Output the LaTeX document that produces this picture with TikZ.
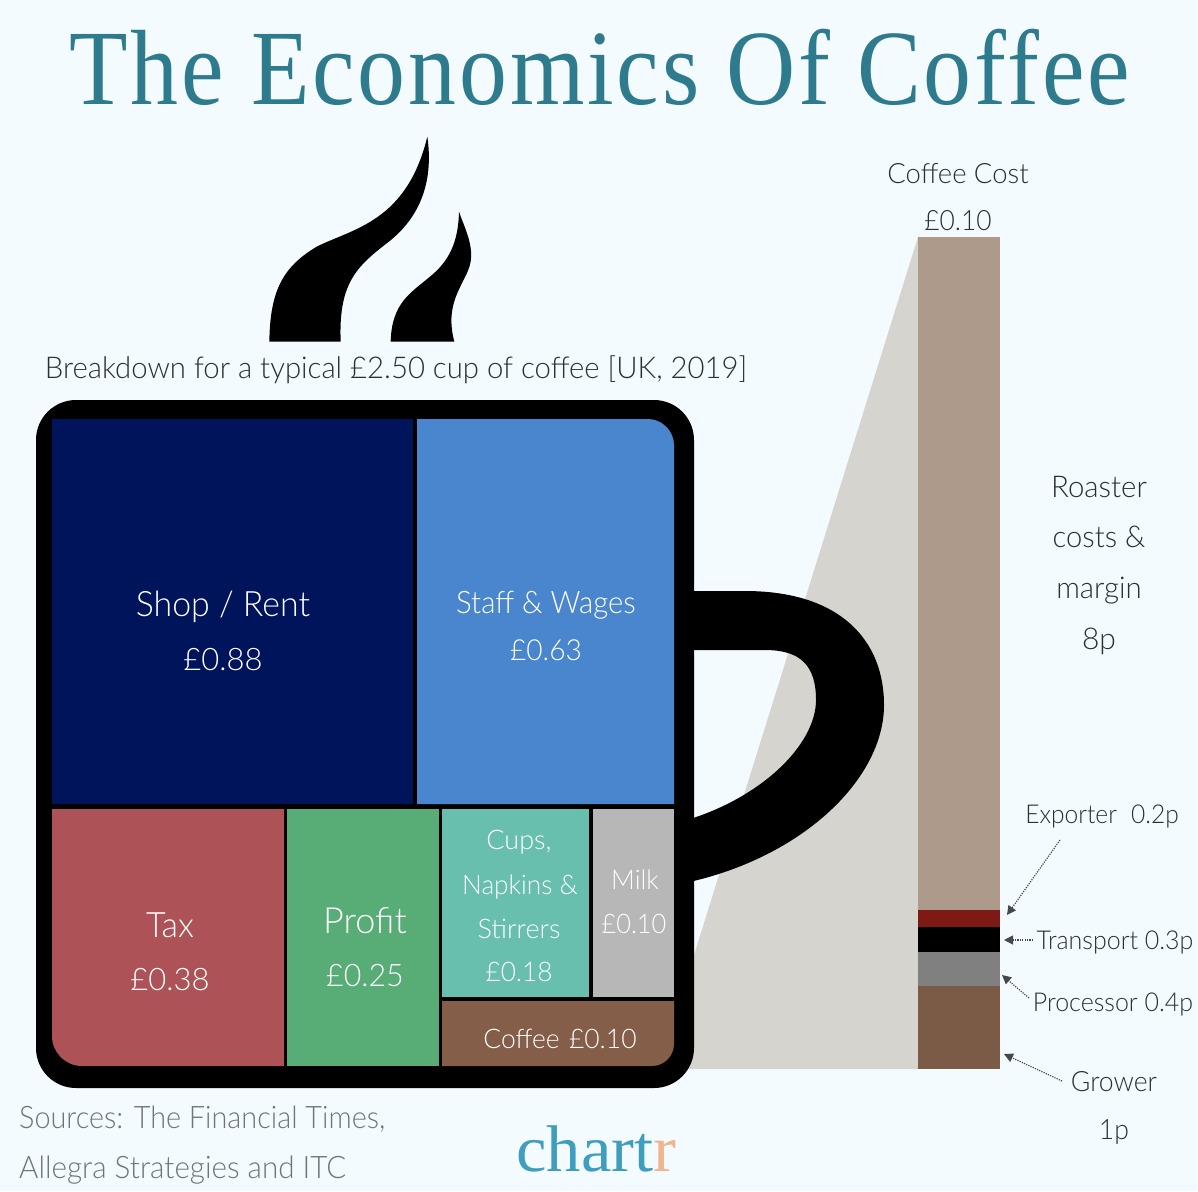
\documentclass[tikz,border=0pt]{standalone}
\usepackage{fontspec}
\setmainfont{Lato Light}
\newfontfamily\slabfont{Liberation Serif}
\usetikzlibrary{arrows.meta}
\definecolor{bgc}{HTML}{F4FBFF}
\definecolor{titlec}{HTML}{2F7B8E}
\definecolor{ink}{HTML}{2A2F33}
\definecolor{srcgray}{HTML}{6F7477}
\definecolor{conegray}{HTML}{D6D4CF}
\definecolor{rentc}{HTML}{00145C}
\definecolor{staffc}{HTML}{4A86CD}
\definecolor{taxc}{HTML}{AD5257}
\definecolor{profitc}{HTML}{58AC76}
\definecolor{cupsc}{HTML}{68BFAE}
\definecolor{milkc}{HTML}{B7B7B7}
\definecolor{coffeec}{HTML}{855E4A}
\definecolor{roastc}{HTML}{AD9A8B}
\definecolor{exportc}{HTML}{7D1A14}
\definecolor{procc}{HTML}{808080}
\definecolor{growc}{HTML}{7B5A46}
\definecolor{arrowc}{HTML}{45494D}
\definecolor{logoa}{HTML}{3F9DBD}
\definecolor{logob}{HTML}{F0B48E}
\newcommand{\fsz}[1]{\fontsize{#1}{#1}\selectfont}
\newcommand{\hs}[2]{\scalebox{#1}[1]{#2}}
\tikzset{
  x=1pt,y=-1pt,
  lbl/.style={anchor=base,inner sep=0pt,text=ink},
  wht/.style={anchor=base,inner sep=0pt,text=white},
  src/.style={anchor=base west,inner sep=0pt,text=srcgray,font=\fsz{31}},
  dotarrow/.style={draw=arrowc,line width=1.2pt,dash pattern=on 1.2pt off 1.2pt,
    -{Triangle[width=9pt,length=9pt,fill=arrowc]}},
  barblock/.style={inner sep=0pt,outer sep=0pt,anchor=north west}
}
\begin{document}
\begin{tikzpicture}
\useasboundingbox (0,0) rectangle (1198,1191);
\fill[bgc] (0,0) rectangle (1198,1191);
% title
\node[anchor=base,inner sep=0pt,text=titlec,font=\slabfont\fsz{107}] (title) at (600,104) {\hs{.895}{\addfontfeature{LetterSpace=3}The Economics Of Coffee}};
% steam
\begin{scope}[shift={(240,130)},x=0.33333pt,y=-0.33333pt]
\fill[black] (88,635) .. controls (90,480) and (130,410) .. (230,350) .. controls (340,295) and (500,275) .. (562,20)
  .. controls (585,180) and (520,280) .. (440,340) .. controls (350,410) and (295,460) .. (302,635) -- cycle;
\fill[black] (452,635) .. controls (455,520) and (510,490) .. (570,440) .. controls (625,395) and (655,340) .. (657,245)
  .. controls (672,290) and (700,340) .. (692,395) .. controls (680,460) and (610,510) .. (643,635) -- cycle;
\end{scope}
\node[lbl,font=\fsz{30}] (subtitle) at (396,378) {\hs{.977}{Breakdown for a typical £2.50 cup of coffee [UK, 2019]}};
% cone
\fill[conegray] (918,237) -- (918,1069) -- (680,1069) -- (694,955) -- cycle;
% handle
\fill[black] (680,591) -- (745,591) .. controls (840,591) and (884,640) .. (884,705)
  .. controls (884,780) and (800,860) .. (680,884) -- (680,822)
  .. controls (760,800) and (816,745) .. (816,700) .. controls (816,665) and (800,650) .. (765,650) -- (680,650) -- cycle;
% mug
\fill[black,rounded corners=40pt] (36,400) rectangle (694,1088);
% treemap
\fill[rentc] (52,419) rectangle (413,804);
\fill[staffc] (417,419) -- (648,419) .. controls (662,419) and (674,431) .. (674,445) -- (674,804) -- (417,804) -- cycle;
\fill[taxc] (52,809) -- (284,809) -- (284,1066) -- (82,1066) .. controls (65.5,1066) and (52,1052.5) .. (52,1036) -- cycle;
\fill[profitc] (287,809) rectangle (439,1066);
\fill[cupsc] (442,809) rectangle (589,997);
\fill[milkc] (593,809) rectangle (674,997);
\fill[coffeec] (442,1001) -- (674,1001) -- (674,1044) .. controls (674,1056) and (664,1066) .. (652,1066) -- (442,1066) -- cycle;
% treemap labels
\node[wht,font=\fsz{35}] (rent) at (223,616) {\hs{.967}{Shop / Rent}};
\node[wht,font=\fsz{31}] (rentv) at (223,670) {£0.88};
\node[wht,font=\fsz{31}] (staff) at (546,613) {\hs{.947}{Staff \& Wages}};
\node[wht,font=\fsz{29}] (staffv) at (546,660) {\hs{.97}{£0.63}};
\node[wht,font=\fsz{35}] (tax) at (170,937) {\hs{.97}{Tax}};
\node[wht,font=\fsz{31}] (taxv) at (170,990) {£0.38};
\node[wht,font=\fsz{36}] (profit) at (365,933) {Profit};
\node[wht,font=\fsz{31}] (profitv) at (365,986) {\hs{.98}{£0.25}};
\node[wht,font=\fsz{27}] (cups1) at (519,849) {Cups,};
\node[wht,font=\fsz{27}] (cups2) at (520,894) {\hs{.97}{Napkins \&}};
\node[wht,font=\fsz{27}] (cups3) at (519,938) {Stirrers};
\node[wht,font=\fsz{27}] (cupsv) at (519,981) {\hs{.97}{£0.18}};
\node[wht,font=\fsz{27}] (milk) at (635,889) {\hs{.97}{Milk}};
\node[wht,font=\fsz{27}] (milkv) at (634,933) {\hs{.94}{£0.10}};
\node[wht,font=\fsz{27}] (coffee) at (560,1048) {\hs{.98}{Coffee\hspace{.35em}£0.10}};
% cost column
\node[barblock,fill=roastc,minimum width=82pt,minimum height=673pt] (roast) at (918,237) {};
\node[barblock,fill=exportc,minimum width=82pt,minimum height=17pt] (export) at (918,910) {};
\node[barblock,fill=black,minimum width=82pt,minimum height=25pt] (transport) at (918,927) {};
\node[barblock,fill=procc,minimum width=82pt,minimum height=34pt] (processor) at (918,952) {};
\node[barblock,fill=growc,minimum width=82pt,minimum height=83pt] (grower) at (918,986) {};
% column labels
\node[lbl,font=\fsz{28}] (cc1) at (958,183) {\hs{.98}{Coffee Cost}};
\node[lbl,font=\fsz{28}] (cc2) at (958,230) {\hs{.94}{£0.10}};
\node[lbl,font=\fsz{30}] (r1) at (1099,497) {\hs{.98}{Roaster}};
\node[lbl,font=\fsz{30}] (r2) at (1099,547) {\hs{.97}{costs \&}};
\node[lbl,font=\fsz{30}] (r3) at (1099,598) {\hs{.98}{margin}};
\node[lbl,font=\fsz{30}] (r4) at (1099,649) {8p};
\node[lbl,font=\fsz{26}] (lexp) at (1102,823) {\hs{.945}{Exporter\hspace{.3em} 0.2p}};
\node[lbl,font=\fsz{26}] (ltra) at (1115,949) {\hs{.96}{Transport 0.3p}};
\node[lbl,font=\fsz{26}] (lpro) at (1113,1011) {\hs{.96}{Processor 0.4p}};
\node[lbl,font=\fsz{28}] (lgro) at (1114,1091) {\hs{.95}{Grower}};
\node[lbl,font=\fsz{28}] (lgrov) at (1114,1139) {\hs{.95}{1p}};
% leaders
\coordinate (aexp) at (1060,840); \coordinate (texp) at (1007,915);
\coordinate (atra) at (1033,940); \coordinate (ttra) at (1004,940);
\coordinate (apro) at (1029,998); \coordinate (tpro) at (1002,975);
\coordinate (agro) at (1062,1081); \coordinate (tgro) at (1004,1054);
\draw[dotarrow] (aexp) -- (texp);
\draw[dotarrow] (atra) -- (ttra);
\draw[dotarrow] (apro) -- (tpro);
\draw[dotarrow] (agro) -- (tgro);
% footer
\node[src] (s1) at (19,1128) {\hs{.93}{Sources: The Financial Times,}};
\node[src] (s2) at (19,1178) {\hs{.955}{Allegra Strategies and ITC}};
\node[anchor=base west,inner sep=0pt,font=\slabfont\fsz{66}] (logo) at (516,1171) {\hs{1.04}{\textcolor{logoa}{chart}\textcolor{logob}{r}}};
\end{tikzpicture}
\end{document}
